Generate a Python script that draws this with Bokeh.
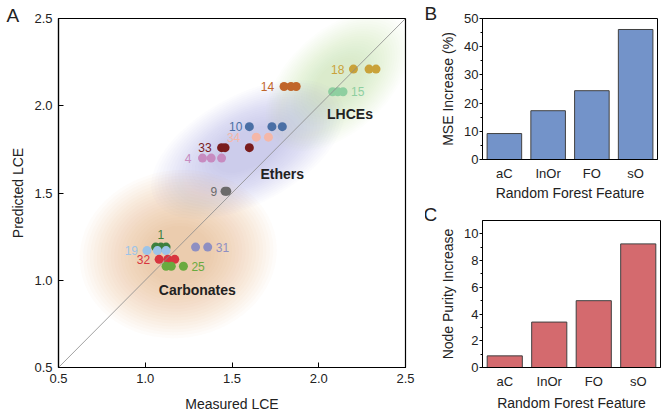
from bokeh.plotting import figure
from bokeh.models import ColumnDataSource, Slope, FixedTicker, Range1d, Title
from bokeh.layouts import row, column
from bokeh.embed import file_html
from bokeh.resources import INLINE
from bokeh.core.properties import value

FONT = "Liberation Sans"

# ---------------- data: panel A ----------------
series_ids = ["18", "14", "15", "10", "34", "33", "4", "9", "1", "19", "31", "32", "25"]
series_colors = ["#C9A23A", "#C0652A", "#8ECFA0", "#4A6FA5", "#F4B7A8", "#7A1C1C",
                 "#C78BC0", "#6B6B6B", "#3C7F3E", "#9DC4E8", "#8E8FC2", "#D8353F", "#6AAA3F"]
measured_lce = [[2.20, 2.29, 2.33], [1.80, 1.84, 1.87], [2.08, 2.11, 2.14],
                [1.60, 1.73, 1.79], [1.64, 1.71], [1.44, 1.46, 1.60],
                [1.33, 1.38, 1.44], [1.46, 1.47], [1.06, 1.09, 1.12],
                [1.01, 1.07, 1.12], [1.29, 1.36], [1.08, 1.13, 1.17],
                [1.12, 1.15, 1.22]]
predicted_lce = [2.21, 2.11, 2.08, 1.88, 1.82, 1.76, 1.70, 1.51, 1.19, 1.17, 1.19, 1.12, 1.08]
label_side = ["left", "left", "right", "left", "left", "left", "left", "left",
              "above", "left", "right", "left", "right"]
label_gap = [9, 10, 8, 7, 16, 10, 11, 8, 13, 9, 8, 9, 8]

group_names = ["LHCEs", "Ethers", "Carbonates"]
group_x = [2.18, 1.79, 1.30]
group_y = [1.95, 1.61, 0.945]

blob_x = [2.11, 1.59, 1.19]
blob_y = [2.14, 1.75, 1.15]
blob_w = [1.0, 1.22, 1.14]
blob_h = [0.58, 0.62, 0.96]
blob_angle = [0.75, 0.5, 0.15]
blob_colors = ["#B0DC98", "#9BA1DD", "#EBA96A"]

# ---------------- data: panels B, C ----------------
features = ["aC", "InOr", "FO", "sO"]
mse_increase = [9.2, 17.3, 24.4, 46.1]
node_purity = [0.87, 3.4, 5.0, 9.25]


def style_axis(ax, tick_standoff, label_standoff):
    ax.major_label_standoff = tick_standoff
    ax.axis_label_standoff = label_standoff
    ax.major_label_text_font = FONT
    ax.major_label_text_font_size = "13px"
    ax.major_label_text_color = "#222222"
    ax.axis_label_text_font = FONT
    ax.axis_label_text_font_size = "14px"
    ax.axis_label_text_font_style = "normal"
    ax.axis_label_text_color = "#222222"
    ax.axis_line_color = "black"


def panel_letter(p, letter, offset, standoff):
    p.add_layout(Title(text=letter, align="left", offset=offset, standoff=standoff,
                       text_font=FONT, text_font_size="19px", text_font_style="normal",
                       text_color="#222222", vertical_align="bottom"), "above")


# ---------------- panel A ----------------
pA = figure(x_range=Range1d(0.5, 2.5), y_range=Range1d(0.5, 2.5),
            frame_width=347, frame_height=349,
            min_border_left=58, min_border_right=20, min_border_top=18, min_border_bottom=50,
            output_backend="svg", toolbar_location=None)
pA.grid.visible = False
pA.outline_line_color = "black"
pA.outline_line_width = 1.2

# soft glows (plateau with faded rim)
N = 20
for bx, by, bw, bh, ba, bc in zip(blob_x, blob_y, blob_w, blob_h, blob_angle, blob_colors):
    for k in range(N, 0, -1):
        s = 0.3 + 0.7 * k / N
        pA.ellipse(x=[bx], y=[by], width=[bw * s], height=[bh * s], angle=ba,
                   fill_color=bc, fill_alpha=0.03, line_color=None)

pA.add_layout(Slope(gradient=1, y_intercept=0, line_color="#8a8a8a", line_width=0.8))

xs, ys, cs = [], [], []
for sid, col, mx, py in zip(series_ids, series_colors, measured_lce, predicted_lce):
    for v in mx:
        xs.append(v)
        ys.append(py)
        cs.append(col)
pA.scatter(x="x", y="y", color="c", size=9, line_color=None,
           source=ColumnDataSource(dict(x=xs, y=ys, c=cs)))

for sid, col, mx, py, side, gap in zip(series_ids, series_colors, measured_lce,
                                       predicted_lce, label_side, label_gap):
    if side == "left":
        tx, dx, dy, al = min(mx), -gap, 0, "right"
    elif side == "right":
        tx, dx, dy, al = max(mx), gap, 0, "left"
    else:
        tx, dx, dy, al = mx[len(mx) // 2], 0, gap, "center"
    pA.text(x=[tx], y=[py], text=[sid], x_offset=dx, y_offset=-dy,
            text_align=al, text_baseline="middle", text_color=col,
            text_font=value(FONT), text_font_size="12px")

pA.text(x=group_x, y=group_y, text=group_names, text_align="center", text_baseline="middle",
        text_color="#222222", text_font=value(FONT), text_font_size="14px",
        text_font_style="bold")

pA.xaxis.axis_label = "Measured LCE"
pA.yaxis.axis_label = "Predicted LCE"
style_axis(pA.xaxis[0], 6, 10)
style_axis(pA.yaxis[0], 6, 5)
for ax in (pA.xaxis[0], pA.yaxis[0]):
    ax.ticker = FixedTicker(ticks=[0.5, 1.0, 1.5, 2.0, 2.5])
    ax.major_tick_in = 5
    ax.major_tick_out = 0
    ax.minor_tick_line_color = None
    ax.axis_line_width = 1.2
    ax.major_label_overrides = {0.5: "0.5", 1.0: "1.0", 1.5: "1.5", 2.0: "2.0", 2.5: "2.5"}
panel_letter(pA, "A", -52, -15)


def bar_panel(vals, color, ymax, ticks, minors, ylabel, fw, fh, left, top, bottom, right,
              tick_sd, label_sd):
    p = figure(x_range=features, y_range=Range1d(0, ymax),
               frame_width=fw, frame_height=fh,
               min_border_left=left, min_border_right=right, min_border_top=top,
               min_border_bottom=bottom, output_backend="svg", toolbar_location=None)
    p.grid.visible = False
    p.outline_line_color = "black"
    p.outline_line_width = 1.0
    p.vbar(x=features, top=vals, width=0.79, fill_color=color, line_color="#404040",
           line_width=1)
    p.yaxis.ticker = FixedTicker(ticks=ticks, minor_ticks=minors)
    p.yaxis.major_tick_out = 3
    p.yaxis.major_tick_in = 0
    p.yaxis.minor_tick_out = 2
    p.yaxis.minor_tick_in = 0
    p.xaxis.major_tick_out = 0
    p.xaxis.major_tick_in = 0
    p.xaxis.minor_tick_out = 0
    p.xaxis.minor_tick_in = 0
    p.xaxis.major_tick_line_color = None
    p.xaxis.minor_tick_line_color = None
    p.xaxis.axis_label = "Random Forest Feature"
    p.yaxis.axis_label = ylabel
    style_axis(p.xaxis[0], tick_sd, label_sd)
    style_axis(p.yaxis[0], 1, 5)
    return p


pB = bar_panel(mse_increase, "#7393C9", 50, [0, 10, 20, 30, 40, 50], [5, 15, 25, 35, 45],
               "MSE Increase (%)", 175, 141, 56, 18, 46, 11, 6, 1)
pC = bar_panel(node_purity, "#D46A6E", 11, [0, 2, 4, 6, 8, 10], [1, 3, 5, 7, 9],
               "Node Purity Increase", 178, 147, 57, 15, 50, 7, 6, 3)
panel_letter(pB, "B", -58, -11)
panel_letter(pC, "C", -59, -9)

layout = row(pA, column(pB, pC))
open("out.html", "w").write(file_html(layout, INLINE))
